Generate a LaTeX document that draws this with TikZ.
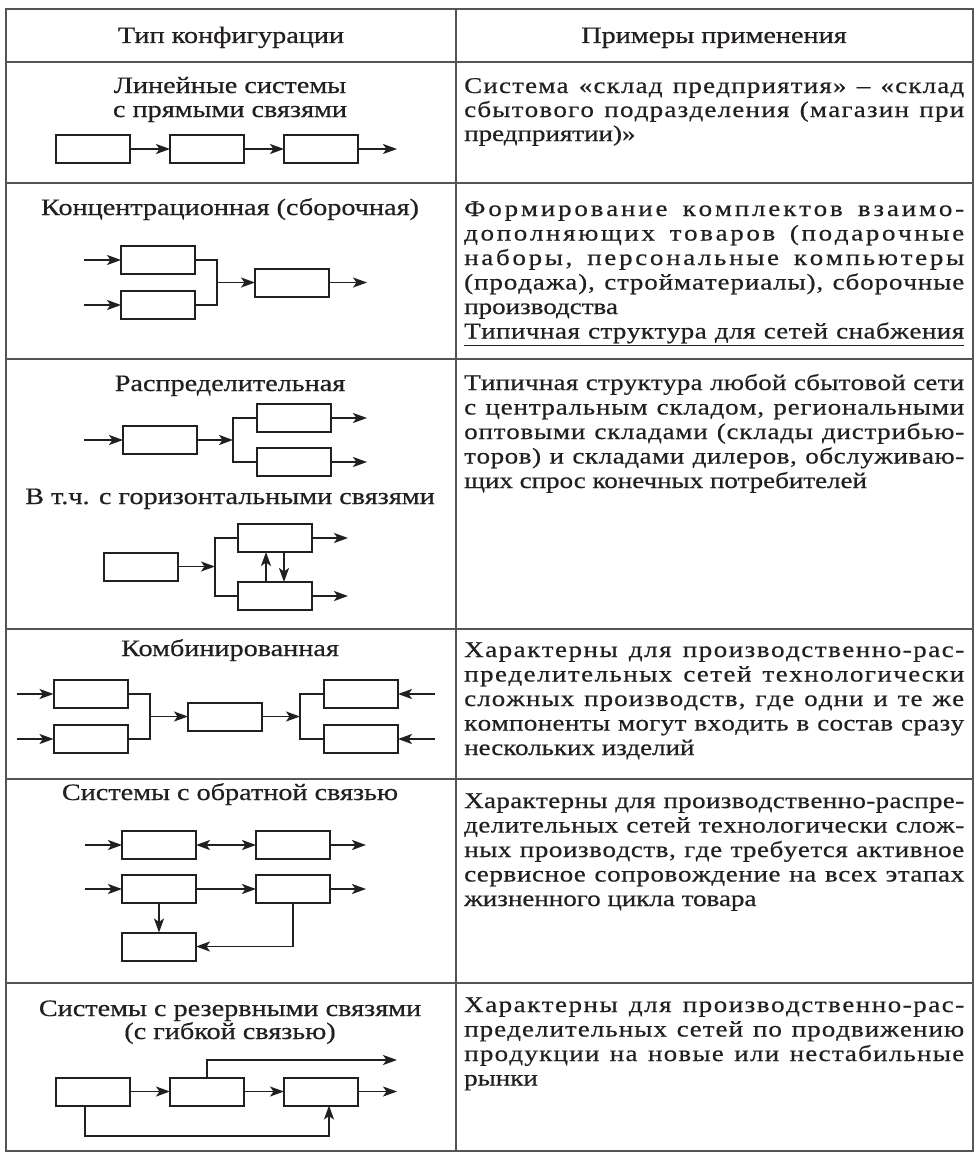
\documentclass[tikz,border=0pt]{standalone}
\usepackage{fontspec}
\setmainfont{Liberation Serif}[FakeStretch=1.2,FakeBold=0.5]
\usetikzlibrary{arrows.meta}
\definecolor{ink}{HTML}{231F20}
\definecolor{rulec}{HTML}{555555}
\ExplSyntaxOn
\bool_new:N \l__ls_line_bool
\bool_new:N \l__ls_word_bool
\seq_new:N \l__ls_words_seq
\cs_new_protected:Npn \__ls_line:n #1
  {
    \seq_set_split:Nnn \l__ls_words_seq { ~ } {#1}
    \bool_set_true:N \l__ls_line_bool
    \seq_map_inline:Nn \l__ls_words_seq
      {
        \bool_if:NTF \l__ls_line_bool
          { \bool_set_false:N \l__ls_line_bool }
          { \skip_horizontal:n { \fontdimen2\font plus 3fil } }
        \bool_set_true:N \l__ls_word_bool
        \tl_map_inline:nn {##1}
          {
            \bool_if:NTF \l__ls_word_bool
              { \bool_set_false:N \l__ls_word_bool }
              { \skip_horizontal:n { 0pt plus 1fil } }
            ####1
          }
      }
  }
\NewDocumentCommand \LSLine { m }
  { \hbox_to_wd:nn { 500pt } { \__ls_line:n {#1} } }
\ExplSyntaxOff
\begin{document}
\begin{tikzpicture}[x=1pt,y=-1pt,
  bx/.style={draw=ink,line width=2pt,minimum width=74pt,minimum height=28pt,inner sep=0pt,outer sep=0pt},
  cn/.style={draw=ink,line width=1.8pt},
  tip/.tip={Stealth[length=14pt,width=10pt,inset=3.5pt]},
  ar/.style={cn,-tip},
  lt/.style={anchor=base,inner sep=0pt,text=ink,font=\fontsize{23.5}{25}\selectfont},
  rt/.style={anchor=base west,inner sep=0pt,text=ink,font=\fontsize{22.5}{25}\selectfont},
  tbl/.style={draw=rulec,line width=1.5pt}]
\useasboundingbox[fill=white] (0,0) rectangle (975,1156);
% table
\draw[tbl] (6,9) rectangle (973,1151);
\draw[tbl] (456,9) -- (456,1151);
\foreach \y in {62,183,359,629,779,983} \draw[tbl] (6,\y) -- (973,\y);
% header
\node[lt] (h1t) at (231,43) {Тип конфигурации};
\node[lt] (h2t) at (714,43) {Примеры применения};
% row 1
\node[lt] (t1a) at (230,93) {Линейные системы};
\node[lt] (t1b) at (230,117) {с прямыми связями};
\node[bx] (a1) at (93,149) {};
\node[bx] (a2) at (207,149) {};
\node[bx] (a3) at (321,149) {};
\coordinate (a4) at (397,149);
\draw[ar] (a1) -- (a2);
\draw[ar] (a2) -- (a3);
\draw[ar] (a3) -- (a4);
% row 2
\node[lt] (t2) at (230,215) {Концентрационная (сборочная)};
\node[bx] (c1) at (158,260) {};
\node[bx] (c2) at (158,305) {};
\node[bx] (c3) at (292,282.5) {};
\coordinate (c1in) at (84,260);
\coordinate (c2in) at (84,305);
\coordinate (cj) at (217,282.5);
\coordinate (c3out) at (367,282.5);
\draw[ar] (c1in) -- (c1);
\draw[ar] (c2in) -- (c2);
\draw[cn] (c1.east) -| (cj) |- (c2.east);
\draw[ar] (cj) -- (c3);
\draw[ar] (c3) -- (c3out);
% row 3
\node[lt] (t3) at (230,391) {Распределительная};
\node[bx] (d1) at (160,440) {};
\node[bx] (d2) at (294,418) {};
\node[bx] (d3) at (294,462) {};
\coordinate (d1in) at (84,440);
\coordinate (dj) at (233,440);
\coordinate (d2out) at (367,418);
\coordinate (d3out) at (367,462);
\draw[ar] (d1in) -- (d1);
\draw[ar] (d1) -- (dj);
\draw[cn] (d2.west) -| (dj) |- (d3.west);
\draw[ar] (d2) -- (d2out);
\draw[ar] (d3) -- (d3out);
\node[lt] (t3b) at (230,504) {В т.ч. с горизонтальными связями};
\node[bx] (e1) at (141,566.5) {};
\node[bx] (e2) at (275,538) {};
\node[bx] (e3) at (275,596) {};
\coordinate (ej) at (215,566.5);
\coordinate (e2out) at (348,538);
\coordinate (e3out) at (348,596);
\draw[ar] (e1) -- (ej);
\draw[cn] (e2.west) -| (ej) |- (e3.west);
\draw[ar] (e2) -- (e2out);
\draw[ar] (e3) -- (e3out);
\draw[ar] ([xshift=-9pt]e3.north) -- ([xshift=-9pt]e2.south);
\draw[ar] ([xshift=9pt]e2.south) -- ([xshift=9pt]e3.north);
% row 4
\node[lt] (t4) at (230,656) {Комбинированная};
\node[bx] (f1) at (90.5,694) {};
\node[bx] (f2) at (90.5,739) {};
\node[bx] (f3) at (225,716.5) {};
\node[bx] (f4) at (361,694) {};
\node[bx] (f5) at (361,739) {};
\coordinate (f1in) at (17,694);
\coordinate (f2in) at (17,739);
\coordinate (fj1) at (150,716.5);
\coordinate (fj2) at (300,716.5);
\coordinate (f4in) at (435,694);
\coordinate (f5in) at (435,739);
\draw[ar] (f1in) -- (f1);
\draw[ar] (f2in) -- (f2);
\draw[cn] (f1.east) -| (fj1) |- (f2.east);
\draw[ar] (fj1) -- (f3);
\draw[ar] (f3) -- (fj2);
\draw[cn] (f4.west) -| (fj2) |- (f5.west);
\draw[ar] (f4in) -- (f4);
\draw[ar] (f5in) -- (f5);
% row 5
\node[lt] (t5) at (230,800) {Системы с обратной связью};
\node[bx] (g1) at (159,845) {};
\node[bx] (g2) at (293,845) {};
\node[bx] (g3) at (159,889) {};
\node[bx] (g4) at (293,889) {};
\node[bx] (g5) at (159,946.5) {};
\coordinate (g1in) at (85,845);
\coordinate (g3in) at (85,889);
\coordinate (g2out) at (366,845);
\coordinate (g4out) at (366,889);
\draw[ar] (g1in) -- (g1);
\draw[cn,tip-tip] (g1) -- (g2);
\draw[ar] (g2) -- (g2out);
\draw[ar] (g3in) -- (g3);
\draw[ar] (g3) -- (g4);
\draw[ar] (g4) -- (g4out);
\draw[ar] (g3) -- (g5);
\draw[ar] (g4.south) |- (g5.east);
% row 6
\node[lt] (t6a) at (230,1016) {Системы с резервными связями};
\node[lt] (t6b) at (230,1039) {(с гибкой связью)};
\node[bx] (k1) at (93,1091.5) {};
\node[bx] (k2) at (207,1091.5) {};
\node[bx] (k3) at (321,1091.5) {};
\coordinate (kup) at (397,1060);
\coordinate (kout) at (397,1091.5);
\coordinate (klow) at (85,1136);
\draw[ar] (k1) -- (k2);
\draw[ar] (k2) -- (k3);
\draw[ar] (k3) -- (kout);
\draw[ar] (k2.north) |- (kup);
\draw[ar] (k1.south -| klow) -- (klow) -| ([xshift=8pt]k3.south);
% right column
\node[rt] (r1a) at (464,93) {\LSLine{Система «склад предприятия» – «склад}};
\node[rt] (r1b) at (464,117) {\LSLine{сбытового подразделения (магазин при}};
\node[rt] (r1c) at (464,141) {предприятии)»};
\node[rt] (r2a) at (464,216) {\LSLine{Формирование комплектов взаимо-}};
\node[rt] (r2b) at (464,240.5) {\LSLine{дополняющих товаров (подарочные}};
\node[rt] (r2c) at (464,265) {\LSLine{наборы, персональные компьютеры}};
\node[rt] (r2d) at (464,289.5) {\LSLine{(продажа), стройматериалы), сборочные}};
\node[rt] (r2e) at (464,314) {производства};
\node[rt] (r2f) at (464,338.5) {\underline{\LSLine{Типичная структура для сетей снабжения}}};
\node[rt] (r3a) at (464,390) {\LSLine{Типичная структура любой сбытовой сети}};
\node[rt] (r3b) at (464,414.5) {\LSLine{с центральным складом, региональными}};
\node[rt] (r3c) at (464,439) {\LSLine{оптовыми складами (склады дистрибью-}};
\node[rt] (r3d) at (464,463.5) {\LSLine{торов) и складами дилеров, обслуживаю-}};
\node[rt] (r3e) at (464,488) {щих спрос конечных потребителей};
\node[rt] (r4a) at (464,657) {\LSLine{Характерны для производственно-рас-}};
\node[rt] (r4b) at (464,681.5) {\LSLine{пределительных сетей технологически}};
\node[rt] (r4c) at (464,706) {\LSLine{сложных производств, где одни и те же}};
\node[rt] (r4d) at (464,730.5) {\LSLine{компоненты могут входить в состав сразу}};
\node[rt] (r4e) at (464,755) {нескольких изделий};
\node[rt] (r5a) at (464,808) {\LSLine{Характерны для производственно-распре-}};
\node[rt] (r5b) at (464,832.5) {\LSLine{делительных сетей технологически слож-}};
\node[rt] (r5c) at (464,857) {\LSLine{ных производств, где требуется активное}};
\node[rt] (r5d) at (464,881.5) {\LSLine{сервисное сопровождение на всех этапах}};
\node[rt] (r5e) at (464,906) {жизненного цикла товара};
\node[rt] (r6a) at (464,1012) {\LSLine{Характерны для производственно-рас-}};
\node[rt] (r6b) at (464,1036.5) {\LSLine{пределительных сетей по продвижению}};
\node[rt] (r6c) at (464,1061) {\LSLine{продукции на новые или нестабильные}};
\node[rt] (r6d) at (464,1085.5) {рынки};
\end{tikzpicture}
\end{document}
